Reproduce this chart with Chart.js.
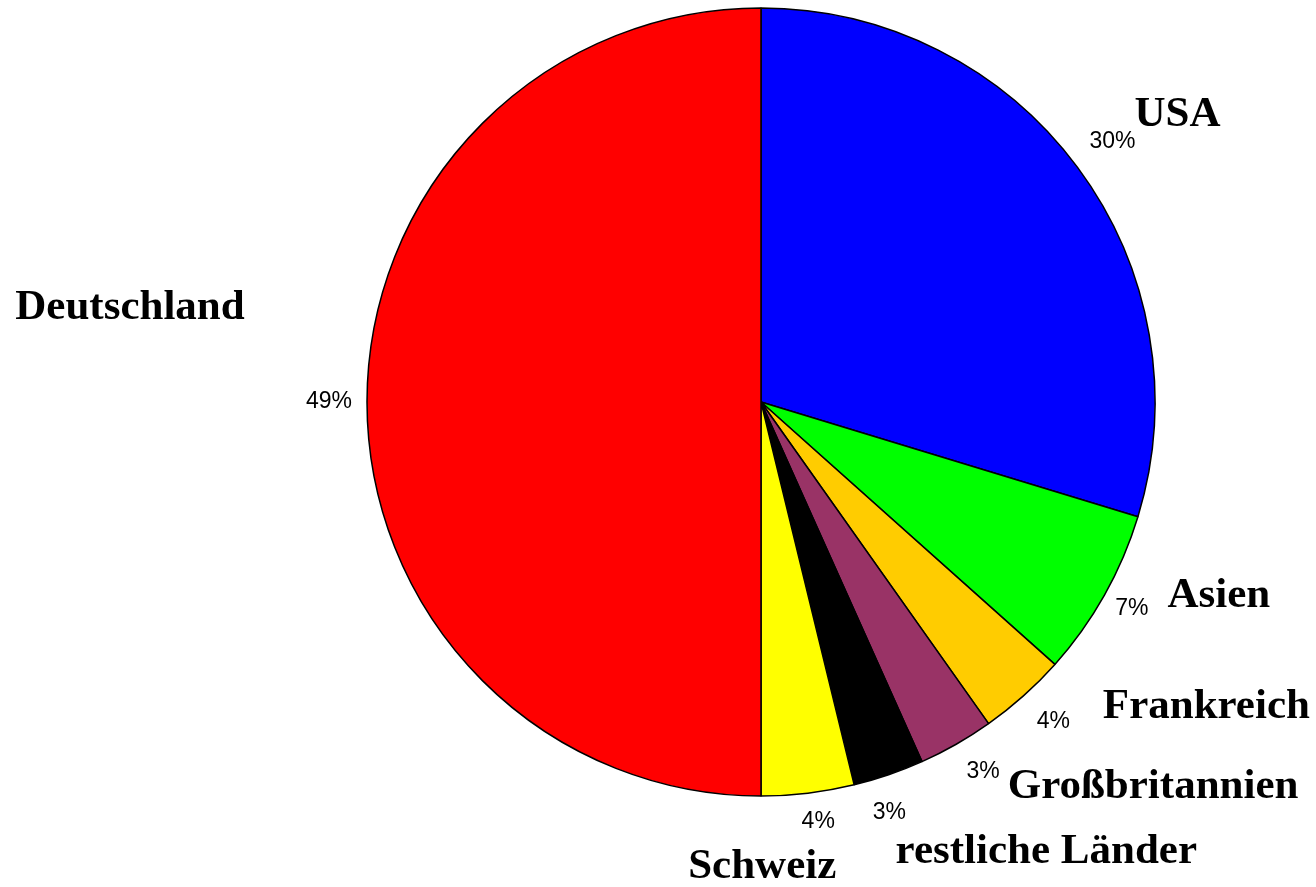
<!DOCTYPE html>
<html>
<head>
<meta charset="utf-8">
<script src="https://cdn.jsdelivr.net/npm/chart.js@4"></script>
<style>
  body{margin:0;background:#fff;}
  #wrap{width:1316px;height:887px;}
</style>
</head>
<body>
<div id="wrap"><canvas id="myChart" width="1316" height="887"></canvas></div>
<script>
// data (clockwise from 12 o'clock)
const countries = ['USA', 'Asien', 'Frankreich', 'Großbritannien', 'restliche Länder', 'Schweiz', 'Deutschland'];
const shares = [29.7, 6.9, 3.6, 3.1, 2.9, 3.8, 50.0];
const pctText = ['30%', '7%', '4%', '3%', '3%', '4%', '49%'];
const sliceColors = ['#0000FF', '#00FF00', '#FFCC00', '#993366', '#000000', '#FFFF00', '#FF0000'];

// small nudges of the percent labels, and where the names sit relative to them
const pctShift = [[6, -4], [-4, -4], [6, -1], [9, -4], [-11, 4], [6, -7], [-2, 0]];
const nameShift = [[65, -27], [87, -13], [153, -15], [170, 15], [157, 39], [-56, 45], [-199, -94]];

// labels plugin
const pieLabels = {
    id: 'pieLabels',
    afterDraw(chart){
        const ctx = chart.ctx;
        const arcs = chart.getDatasetMeta(0).data;
        ctx.save();
        ctx.textAlign = 'center';
        ctx.textBaseline = 'middle';
        ctx.fillStyle = '#000';
        arcs.forEach(function(arc, i){
            const mid = (arc.startAngle + arc.endAngle) / 2;
            const r = arc.outerRadius + 36;
            const px = arc.x + Math.cos(mid) * r + pctShift[i][0];
            const py = arc.y + Math.sin(mid) * r + pctShift[i][1];
            ctx.font = '23px "Liberation Sans", Arial, sans-serif';
            ctx.fillText(pctText[i], px, py);
            ctx.font = 'bold 43px "Liberation Serif", "Times New Roman", serif';
            ctx.fillText(countries[i], px + nameShift[i][0], py + nameShift[i][1]);
        });
        ctx.restore();
    }
};

const ThisChart = document.getElementById('myChart');
new Chart(ThisChart, {
    type: 'pie',
    data: {
        labels: countries,
        datasets: [{
            data: shares,
            backgroundColor: sliceColors,
            borderColor: '#000000',
            borderWidth: 1.5,
            radius: 394
        }]
    },
    options: {
        responsive: false,
        animation: false,
        layout: {padding: {left: 206, right: 0, top: 0, bottom: 83}},
        plugins: {
            legend: {display: false},
            tooltip: {enabled: false}
        }
    },
    plugins: [pieLabels]
});
</script>
</body>
</html>
